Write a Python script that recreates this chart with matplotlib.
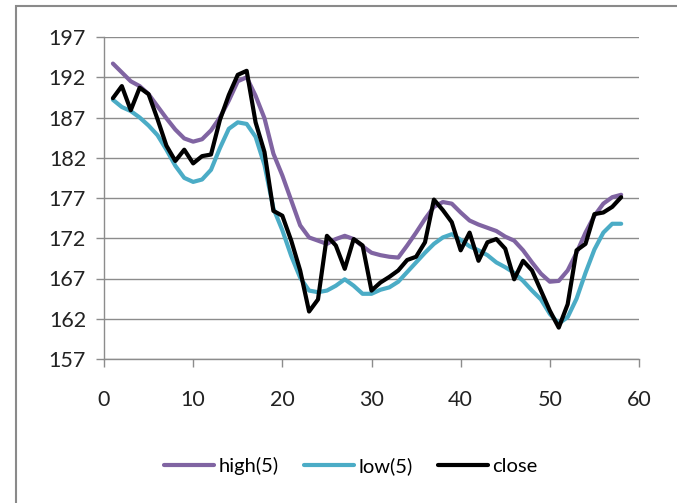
import matplotlib
matplotlib.use("Agg")
import matplotlib.pyplot as plt
from matplotlib.patches import Rectangle

plt.rcParams['font.family'] = ['Lato', 'DejaVu Sans']

days = list(range(1, 59))

high5 = [193.7, 192.6, 191.5, 190.9, 189.9, 188.4, 186.9, 185.5, 184.4, 184.0,
         184.3, 185.4, 187.0, 189.1, 191.5, 192.0, 189.7, 186.9, 182.5, 179.8,
         176.7, 173.6, 172.1, 171.7, 171.3, 171.9, 172.3, 171.9, 171.0, 170.2,
         169.9, 169.7, 169.6, 171.1, 172.7, 174.4, 175.9, 176.5, 176.3, 175.2,
         174.2, 173.7, 173.3, 172.9, 172.2, 171.7, 170.5, 169.0, 167.6, 166.6,
         166.7, 168.0, 170.2, 172.7, 174.8, 176.3, 177.1, 177.4]

low5 = [189.2, 188.3, 187.8, 187.0, 186.0, 184.8, 183.0, 181.0, 179.5, 179.0,
        179.3, 180.5, 183.2, 185.6, 186.4, 186.2, 184.6, 181.1, 175.7, 173.0,
        169.8, 167.1, 165.5, 165.3, 165.5, 166.1, 166.9, 166.1, 165.1, 165.1,
        165.6, 165.9, 166.6, 167.8, 169.0, 170.2, 171.3, 172.1, 172.5, 171.8,
        171.0, 170.5, 169.9, 169.0, 168.4, 167.7, 166.7, 165.5, 164.4, 162.6,
        161.4, 162.2, 164.5, 167.7, 170.6, 172.7, 173.8, 173.8]

close = [189.4, 190.9, 187.9, 190.7, 189.9, 186.8, 183.5, 181.6, 183.0, 181.3,
         182.2, 182.4, 186.7, 189.8, 192.3, 192.8, 186.4, 182.7, 175.4, 174.8,
         171.7, 168.0, 162.9, 164.4, 172.3, 171.1, 168.2, 171.9, 171.1, 165.5,
         166.5, 167.2, 168.0, 169.3, 169.7, 171.5, 176.8, 175.5, 174.0, 170.5,
         172.7, 169.2, 171.5, 171.9, 170.7, 166.9, 169.2, 168.0, 165.5, 163.0,
         160.9, 163.8, 170.5, 171.3, 175.0, 175.2, 175.9, 177.1]

series_names = ["high(5)", "low(5)", "close"]
series_colors = ["#8064A2", "#4BACC6", "#000000"]

yticks = list(range(157, 198, 5))
xticks = list(range(0, 61, 10))

fig = plt.figure(figsize=(6.77, 5.03), dpi=100)
ax = fig.add_axes([104/677, 1-359/503, (639-104)/677, (359-37)/503])

for vals, name, col in zip([high5, low5, close], series_names, series_colors):
    ax.plot(days, vals, color=col, lw=3.0, label=name, solid_joinstyle='round',
            solid_capstyle='round')

ax.set_xlim(0, 60)
ax.set_ylim(157, 197)
ax.set_xticks(xticks)
ax.set_yticks(yticks)
ax.grid(axis='y', color='#8c8c8c', lw=1.0)
ax.set_axisbelow(True)
for s in ['top', 'right']:
    ax.spines[s].set_visible(False)
for s in ['left', 'bottom']:
    ax.spines[s].set_color('#8c8c8c')
    ax.spines[s].set_linewidth(1.0)
ax.tick_params(axis='both', colors='#8c8c8c', labelcolor='#222222', labelsize=15.5,
               length=6, width=1.0, direction='out')
ax.tick_params(axis='x', pad=16)
ax.tick_params(axis='y', pad=7)

fig.legend(loc='center', bbox_to_anchor=(0.518, 1-466/503), ncol=3, frameon=False,
           fontsize=14.5, handlelength=2.5, handletextpad=0.2, columnspacing=1.25)

fig.patches.append(Rectangle((16/677, -0.02), 1.0, (503-6)/503 + 0.02,
                             transform=fig.transFigure, fill=False,
                             edgecolor='#8a8a8a', lw=1.5))

fig.savefig("out.png", dpi=100)
